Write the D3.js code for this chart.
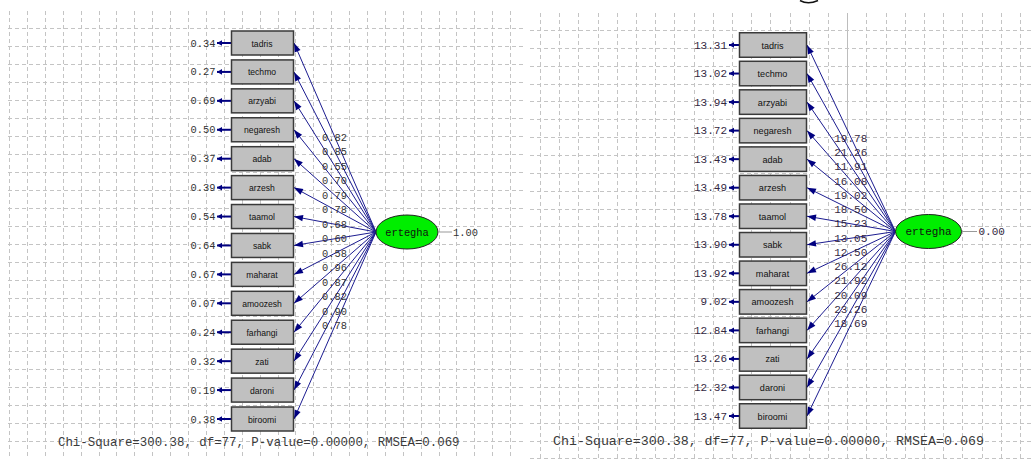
<!DOCTYPE html>
<html><head><meta charset="utf-8">
<script src="https://cdn.jsdelivr.net/npm/d3@7"></script>
<style>html,body{margin:0;padding:0;background:#fff;overflow:hidden}svg{display:block}</style>
</head><body>
<svg id="chart" width="1034" height="459"></svg>
<script>
// ---- data ----
const indicators = ["tadris","techmo","arzyabi","negaresh","adab","arzesh","taamol","sabk","maharat","amoozesh","farhangi","zati","daroni","biroomi"];
const loadings   = [0.82,0.85,0.55,0.70,0.79,0.78,0.68,0.60,0.58,0.96,0.87,0.82,0.90,0.78];
const errorVars  = [0.34,0.27,0.69,0.50,0.37,0.39,0.54,0.64,0.67,0.07,0.24,0.32,0.19,0.38];
const tValues    = [19.78,21.26,11.91,16.08,19.02,18.50,15.23,13.05,12.50,26.12,21.92,20.09,23.26,18.69];
const errorT     = [13.31,13.02,13.94,13.72,13.43,13.49,13.78,13.90,13.92,9.02,12.84,13.26,12.32,13.47];
const factorName = "ertegha";
const factorVar  = [1.00, 0.00];
const fitText    = "Chi-Square=300.38, df=77, P-value=0.00000, RMSEA=0.069";

const fmt = d3.format(".2f");
const svg = d3.select("#chart");
svg.append("rect").attr("width",1034).attr("height",459).attr("fill","#fff");

const panels = [
  {values: loadings, errors: errorVars, fv: factorVar[0],
   grid:{x0:8,x1:525,y0:11,y1:459,vx0:9,vdx:17.9,hy0:28.3,hdy:17.95,solidK:null},
   box:{x0:231,x1:293,h:24}, yRange:[43,419], ell:{cx:407,cy:232,rx:31,ry:17},
   errTip:217, errTextX:215.5, varLine:[439,452], varText:453,
   fs:10.4, boxFs:8.6, fitX:58, fitY:443, fitFs:12.4, color:"#333"},
  {values: tValues, errors: errorT, fv: factorVar[1],
   grid:{x0:530,x1:1034,y0:13,y1:459,vx0:540,vdx:19.2,hy0:30,hdy:17.85,solidK:16},
   box:{x0:739,x1:806,h:24.5}, yRange:[45,416], ell:{cx:928.5,cy:231.5,rx:33,ry:17},
   errTip:729, errTextX:727, varLine:[962,977], varText:978.5,
   fs:11, boxFs:9.1, fitX:553, fitY:441, fitFs:13.3, color:"#33283f"}
];

const defs = svg.append("defs");
defs.append("marker").attr("id","ah").attr("markerUnits","userSpaceOnUse")
  .attr("viewBox","-10 -4 11 8").attr("refX",0).attr("refY",0)
  .attr("markerWidth",11).attr("markerHeight",8).attr("orient","auto")
  .append("path").attr("d","M0,0 L-9,-3.2 L-9,3.2 Z").attr("fill","#000080");
defs.append("marker").attr("id","eh").attr("markerUnits","userSpaceOnUse")
  .attr("viewBox","-6 -4 7 8").attr("refX",0).attr("refY",0)
  .attr("markerWidth",7).attr("markerHeight",8).attr("orient","auto")
  .append("path").attr("d","M0,0 L-5,-2.8 L-5,2.8 Z").attr("fill","#000080");

panels.forEach((p) => {
  const g = svg.append("g");
  const G = p.grid;
  // grid
  const gg = g.append("g").attr("stroke","#c4c4c4").attr("stroke-width",1).attr("fill","none");
  const vx = d3.range(0, 60).map(k => ({k, x: G.vx0 + G.vdx*k})).filter(d => d.x <= G.x1);
  gg.selectAll("line.v").data(vx).join("line")
    .attr("x1",d=>Math.round(d.x)+0.5).attr("x2",d=>Math.round(d.x)+0.5)
    .attr("y1",G.y0).attr("y2",G.y1).attr("stroke-dasharray","4,3");
  if (G.solidK !== null) {
    const sx = Math.round(G.vx0 + G.vdx*G.solidK)+0.5;
    gg.append("line").attr("x1",sx).attr("x2",sx).attr("y1",G.y0).attr("y2",135).attr("stroke","#bdbdbd");
  }
  const hy = d3.range(0, 40).map(k => G.hy0 + G.hdy*k).filter(y => y <= G.y1);
  gg.selectAll("line.h").data(hy).join("line")
    .attr("y1",d=>Math.round(d)+0.5).attr("y2",d=>Math.round(d)+0.5)
    .attr("x1",G.x0).attr("x2",G.x1).attr("stroke-dasharray","4,3");

  const y = d3.scalePoint().domain(indicators).range(p.yRange);
  const E = p.ell, B = p.box;
  const ex = E.cx - E.rx;
  const rows = indicators.map((name,i) => ({name, v:p.values[i], e:p.errors[i], y:y(name)}));

  // loading paths
  g.append("g").selectAll("line").data(rows).join("line")
    .attr("x1",ex).attr("y1",E.cy).attr("x2",B.x1+1).attr("y2",d=>d.y)
    .attr("stroke","#1c1c90").attr("stroke-width",1).attr("marker-end","url(#ah)");

  // error arrows
  g.append("g").selectAll("line").data(rows).join("line")
    .attr("x1",B.x0).attr("y1",d=>d.y).attr("x2",p.errTip).attr("y2",d=>d.y)
    .attr("stroke","#000080").attr("stroke-width",2).attr("marker-end","url(#eh)");

  // boxes
  const bx = g.append("g").selectAll("g").data(rows).join("g");
  bx.append("rect").attr("x",B.x0+0.5).attr("y",d=>d.y-B.h/2).attr("width",B.x1-B.x0).attr("height",B.h)
    .attr("fill","#c0c0c0").attr("stroke","#3a3a3a").attr("stroke-width",1.5);
  bx.append("text").attr("x",(B.x0+B.x1)/2).attr("y",d=>d.y+0.5)
    .attr("text-anchor","middle").attr("dominant-baseline","central")
    .attr("font-family","Liberation Sans, Arial, sans-serif").attr("font-size",p.boxFs)
    .attr("fill","#111").text(d=>d.name);

  // error values
  g.append("g").selectAll("text").data(rows).join("text")
    .attr("x",p.errTextX).attr("y",d=>d.y+0.5).attr("text-anchor","end").attr("dominant-baseline","central")
    .attr("font-family","Liberation Mono, Courier New, monospace").attr("font-size",p.fs)
    .attr("fill",p.color).text(d=>fmt(d.e));

  // loading labels at path midpoints
  g.append("g").selectAll("text").data(rows).join("text")
    .attr("x",(ex + B.x1)/2).attr("y",d=>(E.cy + d.y)/2 + 0.5)
    .attr("text-anchor","middle").attr("dominant-baseline","central")
    .attr("font-family","Liberation Mono, Courier New, monospace").attr("font-size",p.fs)
    .attr("fill",p.color).text(d=>fmt(d.v));

  // latent factor
  g.append("line").attr("x1",p.varLine[0]).attr("x2",p.varLine[1]).attr("y1",E.cy).attr("y2",E.cy)
    .attr("stroke","#999").attr("stroke-width",1);
  g.append("text").attr("x",p.varText).attr("y",E.cy+0.5).attr("dominant-baseline","central")
    .attr("font-family","Liberation Mono, Courier New, monospace").attr("font-size",p.fs)
    .attr("fill",p.color).text(fmt(p.fv));
  g.append("ellipse").attr("cx",E.cx).attr("cy",E.cy).attr("rx",E.rx).attr("ry",E.ry)
    .attr("fill","#00ee00").attr("stroke","#222").attr("stroke-width",1);
  g.append("text").attr("x",E.cx).attr("y",E.cy+0.5).attr("text-anchor","middle").attr("dominant-baseline","central")
    .attr("font-family","Liberation Mono, Courier New, monospace").attr("font-size",p.fs)
    .attr("fill","#111").text(factorName);

  // fit statistics
  g.append("text").attr("x",p.fitX).attr("y",p.fitY).attr("dominant-baseline","central")
    .attr("font-family","Liberation Mono, Courier New, monospace").attr("font-size",p.fitFs)
    .attr("fill","#3a3a3a").text(fitText);
});

// cropped glyph fragment at the top edge
svg.append("path").attr("d","M800,0.5 Q808,5 818,0.5").attr("fill","none").attr("stroke","#111").attr("stroke-width",1.6);
</script>
</body></html>
